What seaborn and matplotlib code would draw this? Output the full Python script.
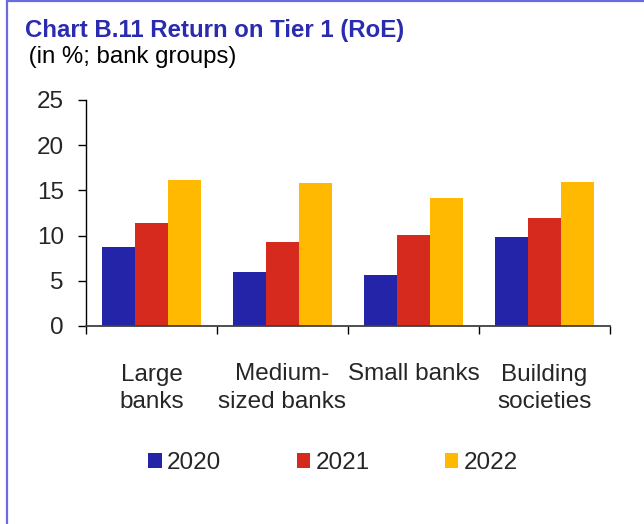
import matplotlib
matplotlib.use("Agg")
import matplotlib.pyplot as plt
import seaborn as sns
import pandas as pd
from matplotlib.patches import Patch
from matplotlib.lines import Line2D

categories = ["Large\nbanks", "Medium-\nsized banks", "Small banks", "Building\nsocieties"]
years = ["2020", "2021", "2022"]
values_2020 = [8.7, 6.0, 5.6, 9.8]
values_2021 = [11.4, 9.3, 10.1, 11.9]
values_2022 = [16.2, 15.8, 14.2, 15.9]
yticks = [0, 5, 10, 15, 20, 25]
colors = ["#2424A8", "#D62A1F", "#FFB900"]

rows = []
for yr, vals in zip(years, [values_2020, values_2021, values_2022]):
    for c, v in zip(categories, vals):
        rows.append({"category": c, "year": yr, "value": v})
df = pd.DataFrame(rows)

sns.set_theme(style="white")
plt.rcParams["font.family"] = ["Liberation Sans", "DejaVu Sans"]

fig = plt.figure(figsize=(6.44, 5.24), dpi=100)
ax = fig.add_axes([86/644, 1-326/524, (610-86)/644, (326-100)/524])

sns.barplot(data=df, x="category", y="value", hue="year", order=categories,
            hue_order=years, palette=colors, width=0.75, saturation=1,
            edgecolor="none", linewidth=0, ax=ax, legend=False)

ax.set_ylim(0, 25)
ax.set_xlim(-0.5, 3.5)
ax.set_yticks(yticks)
ax.set_yticklabels([str(t) for t in yticks])
ax.tick_params(axis="y", which="major", direction="out", length=6, width=1,
               color="black", labelsize=17.5, pad=10, left=True)
ax.set_xticks([-0.5, 0.5, 1.5, 2.5, 3.5])
ax.set_xticklabels([])
ax.tick_params(axis="x", which="major", direction="out", length=6, width=1,
               color="black", bottom=True)
ax.set_xticks(range(len(categories)), minor=True)
ax.set_xticklabels(categories, minor=True)
ax.tick_params(axis="x", which="minor", length=0, labelsize=17.5, pad=27)
for lab in ax.get_xticklabels(minor=True):
    lab.set_verticalalignment("top")
    lab.set_linespacing(1.3)
ax.set_xlabel("")
ax.set_ylabel("")
for s in ["top", "right"]:
    ax.spines[s].set_visible(False)
ax.spines["left"].set_color("black")
ax.spines["bottom"].set_color("#404040")
ax.spines["left"].set_linewidth(1)
ax.spines["bottom"].set_linewidth(1.3)

handles = [Patch(facecolor=c, edgecolor="none") for c in colors]
leg = fig.legend(handles, years, loc="center", ncol=3, frameon=False,
                 bbox_to_anchor=(333/644, 1-463/524), fontsize=17.5,
                 handlelength=0.55, handleheight=0.55, handletextpad=0.22,
                 columnspacing=3.1)

fig.text(25/644, 1-37/524, "Chart B.11 Return on Tier 1 (RoE)", fontsize=17.3,
         fontweight="bold", color="#2B2BB0", va="baseline", ha="left")
fig.text(22/644, 1-63/524, " (in %; bank groups)", fontsize=17.3,
         color="black", va="baseline", ha="left")

# frame lines (left and top)
fig.add_artist(Line2D([7/644, 7/644], [0, 1], transform=fig.transFigure,
                      color="#6B6BE0", linewidth=1.6))
fig.add_artist(Line2D([7/644, 1], [1-1/524, 1-1/524], transform=fig.transFigure,
                      color="#6B6BE0", linewidth=1.6))

fig.savefig("out.png", dpi=100, facecolor="white")
